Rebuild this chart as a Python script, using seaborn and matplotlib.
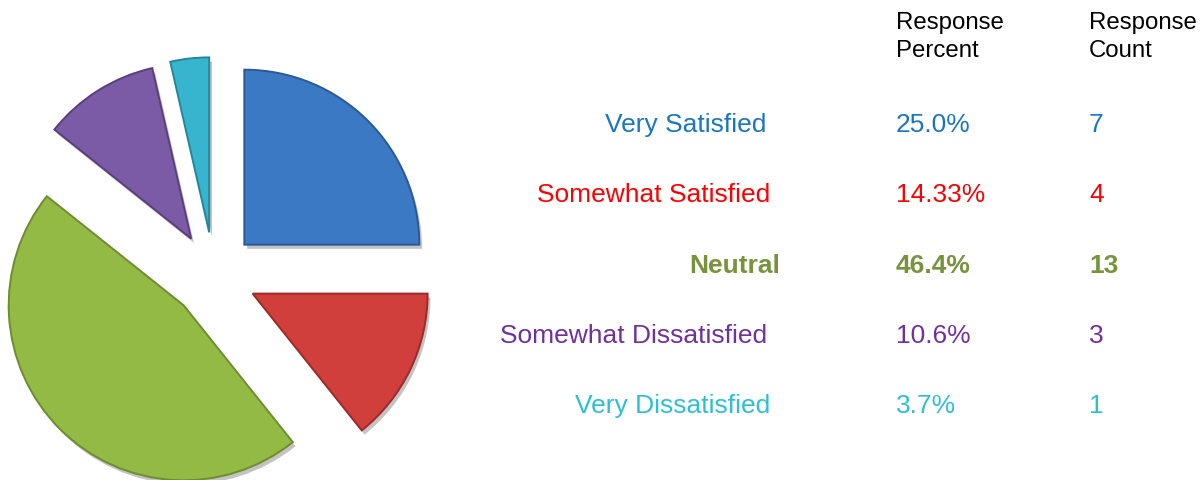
import matplotlib
matplotlib.use("Agg")
import matplotlib.pyplot as plt
import matplotlib.patheffects as pe
import seaborn as sns

# ---- data ----
categories = ["Very Satisfied", "Somewhat Satisfied", "Neutral",
              "Somewhat Dissatisfied", "Very Dissatisfied"]
counts = [7, 4, 13, 3, 1]
percent_labels = ["25.0%", "14.33%", "46.4%", "10.6%", "3.7%"]
header_percent = "Response\nPercent"
header_count = "Response\nCount"

# ---- styles ----
wedge_colors = ["#3b79c4", "#d03f3b", "#93ba45", "#7b5aa6", "#37b5cf"]
edge_colors = ["#2a5a95", "#9a2b28", "#6e8c30", "#5a3f7d", "#24869c"]
text_colors = ["#1a75c2", "#ff0000", "#77933c", "#7030a0", "#2ebfd4"]
text_weights = ["normal", "normal", "bold", "normal", "normal"]

sns.set_theme(style="white")
plt.rcParams["font.family"] = ["Liberation Sans", "DejaVu Sans"]

W, H = 1201, 481
fig = plt.figure(figsize=(W / 100, H / 100), dpi=100)
fig.patch.set_facecolor("white")

# pie axes: left 480 px, full height; 1 data unit = 175 px
ax = fig.add_axes([0, 0, 480 / W, 1])
cx, cy = 214, 481 - 276
ax.axis("off")

wedges, _ = ax.pie(counts, colors=wedge_colors, startangle=90, counterclock=False,
                   explode=[0.245] * len(counts), radius=1,
                   wedgeprops=dict(linewidth=1.4))
for w, ec in zip(wedges, edge_colors):
    w.set_edgecolor(ec)
    w.set_path_effects([pe.SimplePatchShadow(offset=(2, -3), alpha=0.35, shadow_rgbFace="#555555"),
                        pe.Normal()])
ax.set_aspect("auto")
ax.set_xlim(-cx / 175, (480 - cx) / 175)
ax.set_ylim(-cy / 175, (481 - cy) / 175)

def fx(px):
    return px / W

def fy(py):
    return 1 - py / H

# header
fig.text(fx(896), fy(37), header_percent, ha="left", va="center",
         fontsize=17.3, color="black", linespacing=1.38)
fig.text(fx(1089), fy(37), header_count, ha="left", va="center",
         fontsize=17.3, color="black", linespacing=1.38)

row_y = [125, 195, 266, 336, 406]
label_right = [766, 770, 780, 767, 770]
for cat, pct, cnt, col, wt, y, xr in zip(categories, percent_labels, counts,
                                         text_colors, text_weights, row_y, label_right):
    fig.text(fx(xr), fy(y), cat, ha="right", va="center", fontsize=19,
             color=col, fontweight=wt)
    fig.text(fx(896), fy(y), pct, ha="left", va="center", fontsize=19,
             color=col, fontweight=wt)
    fig.text(fx(1089), fy(y), str(cnt), ha="left", va="center", fontsize=19,
             color=col, fontweight=wt)

fig.savefig("out.png", dpi=100, facecolor="white")
